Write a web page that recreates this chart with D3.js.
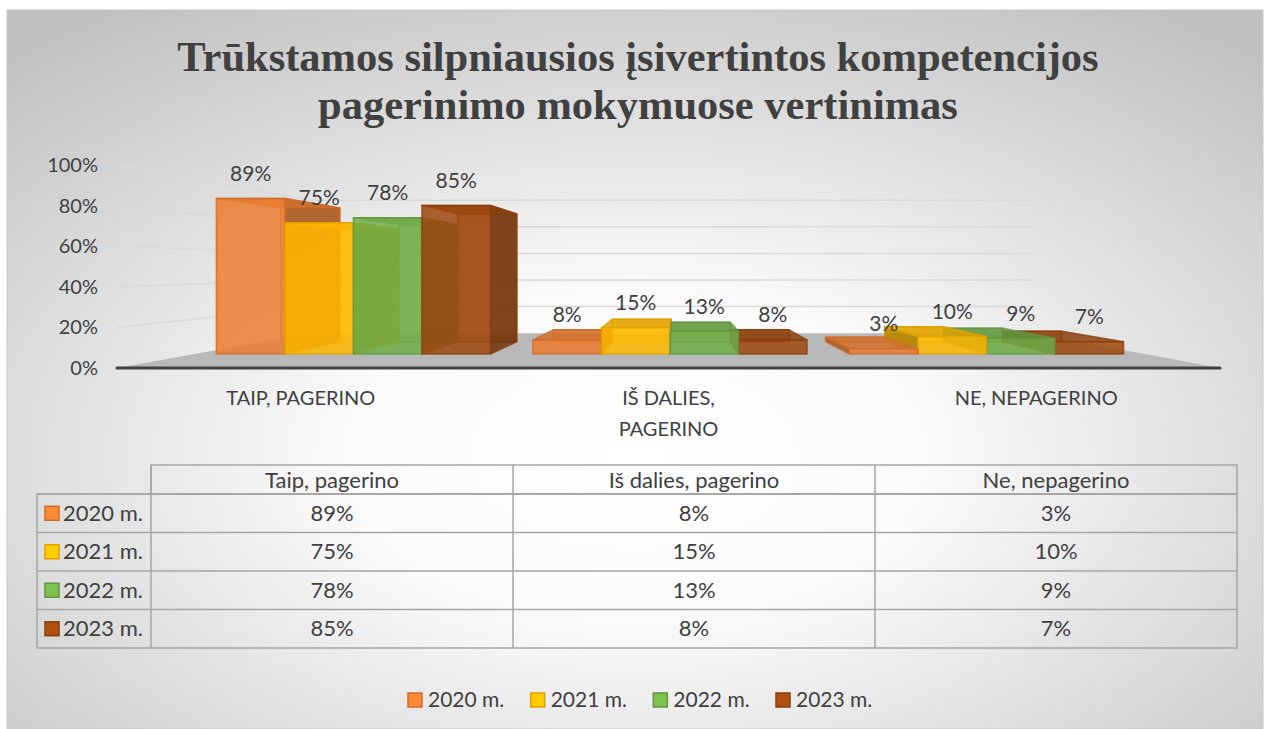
<!DOCTYPE html>
<html>
<head>
<meta charset="utf-8">
<script src="https://cdn.jsdelivr.net/npm/d3@7"></script>
<style>
  body { margin: 0; background: #fff; }
  text { font-family: Lato, "Open Sans", sans-serif; fill: #404040; }
</style>
</head>
<body>
<script>
// chart data
var categories = ["Taip, pagerino", "Iš dalies, pagerino", "Ne, nepagerino"];
var axisLabels = [["TAIP, PAGERINO"], ["IŠ DALIES,", "PAGERINO"], ["NE, NEPAGERINO"]];
var years = ["2020 m.", "2021 m.", "2022 m.", "2023 m."];
var v2020 = [0.89, 0.08, 0.03];
var v2021 = [0.75, 0.15, 0.10];
var v2022 = [0.78, 0.13, 0.09];
var v2023 = [0.85, 0.08, 0.07];
var yTicks = [0, 0.2, 0.4, 0.6, 0.8, 1.0];
var colors = ["#ED7D31", "#FFB800", "#70AD47", "#9E480E"];
var titleLines = ["Trūkstamos silpniausios įsivertintos kompetencijos", "pagerinimo mokymuose vertinimas"];

var series = [v2020, v2021, v2022, v2023];

var W = 1269, H = 729;
var svg = d3.select("body").append("svg")
    .attr("width", W)
    .attr("height", H);

// background
var defs = svg.append("defs");
var grad = defs.append("radialGradient")
    .attr("id", "bg")
    .attr("cx", "50%").attr("cy", "62%").attr("r", "75%");
grad.append("stop").attr("offset", "0").attr("stop-color", "#ffffff");
grad.append("stop").attr("offset", "0.3").attr("stop-color", "#fbfbfb");
grad.append("stop").attr("offset", "1").attr("stop-color", "#c0c0c0");

svg.append("rect")
    .attr("x", 7).attr("y", 10)
    .attr("width", 1256).attr("height", 719)
    .attr("fill", "url(#bg)")
    .attr("stroke", "#c8c8c8");

// title
svg.append("text")
    .attr("text-anchor", "middle")
    .style("font-family", "'Liberation Serif', 'Times New Roman', serif")
    .style("font-weight", "bold")
    .style("font-size", "42.5px")
    .selectAll("tspan").data(titleLines).enter()
    .append("tspan")
    .attr("x", 638)
    .attr("y", function(d, i) { return 71 + i * 48; })
    .text(function(d) { return d; });

// perspective helpers
var VP = {x: 679, y: 267};
var S_NEAR = 1, S_FRONT = 0.861, S_BACK = 0.741, S_WALL = 0.655;
function proj(x, y, s) {
    return [VP.x + s * (x - VP.x), VP.y + s * (y - VP.y)];
}
function poly(pts) { return "M" + pts.map(function(p) { return p.join(","); }).join("L") + "Z"; }

var x = d3.scaleBand().domain(categories).range([117, 1220]);
var x1 = d3.scaleBand().domain(years).range([0, x.bandwidth()]).paddingOuter(0.31);
var y = d3.scaleLinear().domain([0, 1]).range([368, 165]);

var plot = svg.append("g");

// walls gridlines
yTicks.filter(function(t) { return t > 0; }).forEach(function(t) {
    var a = proj(x.range()[0], y(t), S_NEAR), b = proj(x.range()[0], y(t), S_WALL),
        c = proj(x.range()[1], y(t), S_WALL);
    plot.append("path")
        .attr("d", "M" + a + "L" + b + "L" + c)
        .attr("fill", "none")
        .attr("stroke", "#d9d9d9")
        .attr("stroke-width", 1.5);
});

// floor
var x0r = x.range()[0], x1r = x.range()[1];
plot.append("path")
    .attr("d", poly([proj(x0r, y(0), S_NEAR), proj(x1r, y(0), S_NEAR), proj(x1r, y(0), S_WALL), proj(x0r, y(0), S_WALL)]))
    .attr("fill", "#b9b9b9");
plot.append("line")
    .attr("x1", x0r).attr("x2", x1r)
    .attr("y1", y(0)).attr("y2", y(0))
    .attr("stroke", "#404040")
    .attr("stroke-width", 3)
    .attr("stroke-linecap", "round");

// y axis labels
svg.append("g").selectAll("text").data(yTicks).enter()
    .append("text")
    .attr("x", 98)
    .attr("y", function(d) { return y(d); })
    .attr("dy", "0.35em")
    .attr("text-anchor", "end")
    .style("font-size", "20px")
    .text(function(d) { return Math.round(d * 100) + "%"; });

// bars
var bars = [];
categories.forEach(function(cat, ci) {
    years.forEach(function(yr, si) {
        var bx0 = x(cat) + x1(yr), bx1 = bx0 + x1.bandwidth();
        bars.push({cat: cat, si: si, v: series[si][ci], x0: bx0, x1: bx1, mid: (bx0 + bx1) / 2});
    });
});

function faces(d) {
    var yt = y(d.v), yb = y(0);
    var f = {
        back: [proj(d.x0, yt, S_BACK), proj(d.x1, yt, S_BACK), proj(d.x1, yb, S_BACK), proj(d.x0, yb, S_BACK)],
        top: [proj(d.x0, yt, S_FRONT), proj(d.x1, yt, S_FRONT), proj(d.x1, yt, S_BACK), proj(d.x0, yt, S_BACK)],
        front: [proj(d.x0, yt, S_FRONT), proj(d.x1, yt, S_FRONT), proj(d.x1, yb, S_FRONT), proj(d.x0, yb, S_FRONT)]
    };
    var sx = d.mid < VP.x ? d.x1 : d.x0;
    f.side = [proj(sx, yt, S_FRONT), proj(sx, yt, S_BACK), proj(sx, yb, S_BACK), proj(sx, yb, S_FRONT)];
    return f;
}

// bars far from the vanishing point are drawn first
var ordered = bars.slice().sort(function(a, b) {
    return Math.abs(b.mid - VP.x) - Math.abs(a.mid - VP.x);
});

var barG = plot.append("g");
["back", "side", "top", "front"].forEach(function(face) {
    barG.selectAll("path." + face).data(ordered).enter()
        .append("path")
        .attr("class", face)
        .attr("d", function(d) { return poly(faces(d)[face]); })
        .attr("fill", function(d) {
            var c = d3.color(colors[d.si]);
            if (face == "side") return c.darker(1);
            if (face == "top") return c.darker(0.35);
            if (face == "back") return c.brighter(0.2);
            return c;
        })
        .attr("fill-opacity", face == "back" ? 0.45 : 0.85)
        .attr("stroke", function(d) { return d3.color(colors[d.si]).darker(0.4); })
        .attr("stroke-opacity", 0.8)
        .attr("stroke-width", 1.5)
        .attr("stroke-linejoin", "round");
});

// value labels
svg.append("g").selectAll("text").data(bars).enter()
    .append("text")
    .attr("x", function(d) { return proj(d.mid, y(d.v), S_FRONT)[0]; })
    .attr("y", function(d) { return proj(d.mid, y(d.v), S_FRONT)[1] - 25; })
    .attr("dy", "0.35em")
    .attr("text-anchor", "middle")
    .style("font-size", "21px")
    .text(function(d) { return Math.round(d.v * 100) + "%"; });

// category labels
categories.forEach(function(cat, ci) {
    svg.append("text")
        .attr("text-anchor", "middle")
        .style("font-size", "20px")
        .selectAll("tspan").data(axisLabels[ci]).enter()
        .append("tspan")
        .attr("x", x(cat) + x.bandwidth() / 2)
        .attr("y", function(d, i) { return 405 + i * 31; })
        .text(function(d) { return d; });
});

// data table
var tx = d3.scaleBand().domain(categories).range([151, 1237]);
var ty = d3.scaleBand().domain(years).range([494, 648]);
var table = svg.append("g");
var lineColor = "#a6a6a6";

table.append("rect")
    .attr("x", 151).attr("y", 465)
    .attr("width", 1237 - 151).attr("height", 494 - 465)
    .attr("fill", "none").attr("stroke", lineColor).attr("stroke-width", 1.5);
table.append("rect")
    .attr("x", 37).attr("y", 494)
    .attr("width", 1237 - 37).attr("height", 648 - 494)
    .attr("fill", "none").attr("stroke", lineColor).attr("stroke-width", 1.5);
years.forEach(function(yr) {
    table.append("line")
        .attr("x1", 37).attr("x2", 1237)
        .attr("y1", ty(yr)).attr("y2", ty(yr))
        .attr("stroke", lineColor).attr("stroke-width", 1.5);
});
categories.forEach(function(cat) {
    table.append("line")
        .attr("x1", tx(cat)).attr("x2", tx(cat))
        .attr("y1", 465).attr("y2", 648)
        .attr("stroke", lineColor).attr("stroke-width", 1.5);
});
table.selectAll("text.head").data(categories).enter()
    .append("text")
    .attr("x", function(d) { return tx(d) + tx.bandwidth() / 2; })
    .attr("y", 480)
    .attr("dy", "0.35em")
    .attr("text-anchor", "middle")
    .style("font-size", "22px")
    .text(function(d) { return d; });

years.forEach(function(yr, si) {
    var cy = ty(yr) + ty.bandwidth() / 2;
    table.append("rect")
        .attr("x", 45).attr("y", cy - 7)
        .attr("width", 14).attr("height", 14)
        .attr("fill", d3.color(colors[si]).brighter(0.3))
        .attr("stroke", d3.color(colors[si]).darker(0.4))
        .attr("stroke-width", 1.5);
    table.append("text")
        .attr("x", 63).attr("y", cy)
        .attr("dy", "0.35em")
        .style("font-size", "22px")
        .text(yr);
    categories.forEach(function(cat, ci) {
        table.append("text")
            .attr("x", tx(cat) + tx.bandwidth() / 2)
            .attr("y", cy)
            .attr("dy", "0.35em")
            .attr("text-anchor", "middle")
            .style("font-size", "22px")
            .text(Math.round(series[si][ci] * 100) + "%");
    });
});

// legend
var lx = d3.scalePoint().domain(years).range([408, 776]);
var legend = svg.append("g");
years.forEach(function(yr, si) {
    legend.append("rect")
        .attr("x", lx(yr)).attr("y", 693)
        .attr("width", 14).attr("height", 14)
        .attr("fill", d3.color(colors[si]).brighter(0.3))
        .attr("stroke", d3.color(colors[si]).darker(0.4))
        .attr("stroke-width", 1.5);
    legend.append("text")
        .attr("x", lx(yr) + 20).attr("y", 700)
        .attr("dy", "0.35em")
        .style("font-size", "21px")
        .text(yr);
});
</script>
</body>
</html>
